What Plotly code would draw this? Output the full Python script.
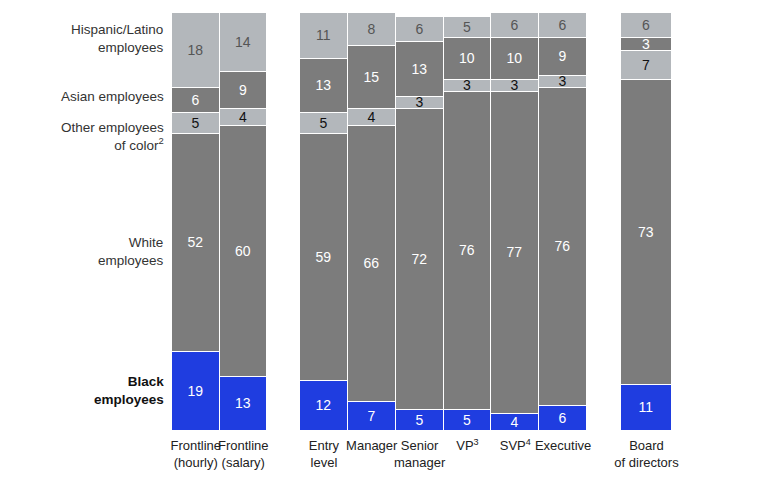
import plotly.graph_objects as go

# three groups of bars, values in % (bottom to top: Black, White, Other, Asian, Hispanic)
groups = [
    ["Frontline<br>(hourly)", "Frontline<br>(salary)"],
    ["Entry<br>level", "Manager", "Senior<br>manager", "VP<sup>3</sup>", "SVP<sup>4</sup>", "Executive"],
    ["Board<br>of directors"],
]

black = [[19, 13], [12, 7, 5, 5, 4, 6], [11]]
white = [[52, 60], [59, 66, 72, 76, 77, 76], [73]]
other = [[5, 4], [5, 4, 3, 3, 3, 3], [7]]
asian = [[6, 9], [13, 15, 13, 10, 10, 9], [3]]
hispanic = [[18, 14], [11, 8, 6, 5, 6, 6], [6]]

BLUE = "#1f3de0"
DARK = "#7c7c7c"
LIGHT = "#b3b7bb"

series = [
    ("Black", black, BLUE, "white"),
    ("White", white, DARK, "white"),
    ("Other", other, LIGHT, "#111111"),
    ("Asian", asian, DARK, "white"),
    ("Hispanic", hispanic, LIGHT, "#555555"),
]

# pixel spans of the bar groups inside the figure (page body adds 8px offset)
domains = [(164, 259), (292, 579), (613, 664)]
W = 767

fig = go.Figure()
for gi, cats in enumerate(groups):
    xa = "x" if gi == 0 else f"x{gi + 1}"
    for name, vals, color, tcolor in series:
        fig.add_trace(go.Bar(
            x=cats, y=vals[gi], name=name, xaxis=xa, yaxis="y",
            marker=dict(color=color, line=dict(color="white", width=1.2)),
            text=vals[gi], textposition="inside", insidetextanchor="middle",
            textangle=0,
            textfont=dict(color=tcolor, size=14, family="Liberation Sans, Arial"),
            showlegend=False, hoverinfo="skip",
        ))

layout = dict(
    barmode="stack", bargap=0,
    width=767, height=480,
    margin=dict(l=0, r=0, t=5, b=57, autoexpand=False),
    plot_bgcolor="white", paper_bgcolor="white",
    font=dict(family="Liberation Sans, Arial", size=13.5, color="#222222"),
    uniformtext=dict(minsize=14, mode="show"),
    yaxis=dict(range=[0, 100], visible=False, fixedrange=True),
)
for gi, (a, b) in enumerate(domains):
    key = "xaxis" if gi == 0 else f"xaxis{gi + 1}"
    layout[key] = dict(
        domain=[a / W, b / W], anchor="y", showgrid=False, zeroline=False,
        showline=False, ticks="", tickangle=0, automargin=False,
        ticklabelstandoff=5,
        tickfont=dict(size=13, color="#222222"),
    )
fig.update_layout(**layout)

labels = [
    ("Hispanic/Latino<br>employees", 93.8, False),
    ("Asian employees", 80.1, False),
    ("Other employees<br>of color<sup>2</sup>", 70.4, False),
    ("White<br>employees", 43.0, False),
    ("<b>Black<br>employees</b>", 9.6, True),
]
for txt, yv, bold in labels:
    fig.add_annotation(
        x=158 / W, xref="paper", y=yv, yref="y", text=txt,
        xanchor="right", yanchor="middle", align="right", showarrow=False,
        font=dict(size=13.5, color="#111111" if bold else "#333333"),
    )

fig.write_html("out.html")
